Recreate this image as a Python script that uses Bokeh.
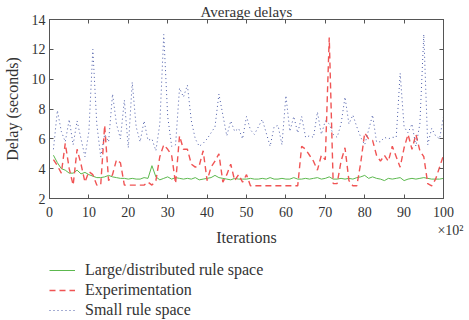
from bokeh.plotting import figure
from bokeh.models import Legend, LegendItem, LinearAxis, Range1d, FixedTicker
from bokeh.layouts import column
from bokeh.embed import file_html
from bokeh.resources import INLINE

iterations = list(range(1, 101))

large_rule = [4.9, 4.4, 4.0, 3.9, 3.7, 3.7, 3.9, 3.65, 3.75, 3.6,
              3.5, 3.4, 3.4, 3.45, 3.55, 3.45, 3.4, 3.35, 3.35, 3.3,
              3.35, 3.3, 3.3, 3.4, 3.35, 4.2, 3.45, 3.25, 3.35, 3.45,
              3.3, 3.4, 3.35, 3.3, 3.35, 3.3, 3.4, 3.25, 3.3, 3.35,
              3.4, 3.55, 3.4, 3.35, 3.3, 3.25, 3.35, 3.3, 3.3, 3.3,
              3.35, 3.3, 3.3, 3.35, 3.3, 3.4, 3.3, 3.3, 3.35, 3.3,
              3.3, 3.4, 3.3, 3.3, 3.35, 3.3, 3.35, 3.4, 3.3, 3.35,
              3.45, 3.3, 3.3, 3.35, 3.3, 3.35, 3.3, 3.4, 3.45, 3.55,
              3.35, 3.45, 3.35, 3.3, 3.2, 3.35, 3.3, 3.35, 3.4, 3.2,
              3.3, 3.35, 3.3, 3.35, 3.4, 3.35, 3.3, 3.3, 3.3, 3.35]

experimentation = [4.6, 4.2, 3.7, 5.7, 4.0, 2.9, 5.3, 4.3, 3.1, 3.8,
                   3.6, 2.9, 2.9, 6.9, 3.2, 3.6, 4.6, 4.4, 2.9, 2.9,
                   2.9, 2.9, 2.9, 2.9, 3.1, 2.9, 3.2, 4.8, 5.6, 5.3,
                   4.9, 3.0, 6.2, 5.3, 5.3, 4.3, 4.1, 4.2, 5.2, 3.2,
                   4.1, 4.5, 5.0, 3.1, 3.6, 4.3, 3.2, 3.6, 3.1, 3.6,
                   2.85, 2.85, 2.85, 2.85, 2.85, 2.85, 2.85, 2.85, 2.85, 2.85,
                   2.85, 2.85, 2.85, 5.5, 5.3, 4.9, 4.5, 3.9, 4.9, 4.6,
                   12.8, 3.0, 3.0, 4.5, 5.4, 3.2, 2.85, 2.85, 4.4, 6.4,
                   6.0, 5.9, 4.9, 4.5, 4.9, 4.5, 5.5, 4.8, 4.1, 5.4,
                   6.3, 5.3, 6.3, 5.2, 4.8, 3.0, 2.85, 3.3, 4.1, 4.9]

small_rule = [5.3, 7.9, 6.5, 5.8, 7.3, 5.6, 7.2, 6.0, 4.8, 6.5,
              12.0, 7.0, 4.8, 6.3, 5.8, 9.0, 7.0, 6.0, 8.6, 5.4,
              9.8, 6.8, 5.8, 7.2, 5.9, 6.0, 5.2, 7.0, 13.0, 7.5,
              5.5, 5.6, 9.4, 8.8, 9.6, 7.2, 6.0, 5.5, 5.7, 6.0,
              6.4, 6.8, 9.0, 7.6, 6.2, 7.2, 6.5, 6.7, 6.0, 7.5,
              6.6, 6.3, 6.8, 7.3, 6.4, 5.5, 6.8, 6.9, 5.6, 8.9,
              6.5, 7.5, 6.4, 7.5, 6.1, 6.2, 6.1, 7.8, 6.3, 7.2,
              7.0, 6.3, 6.1, 7.0, 8.8, 7.0, 7.6, 6.8, 6.1, 5.6,
              6.6, 7.6, 5.8, 5.8, 6.1, 6.0, 6.1, 6.1, 10.4, 6.8,
              6.4, 7.0, 5.5, 7.0, 13.0, 5.6, 6.7, 6.2, 6.0, 7.5]

series_names = ["Large/distributed rule space", "Experimentation", "Small rule space"]
x_ticks = [0, 10, 20, 30, 40, 50, 60, 70, 80, 90, 100]
y_ticks = [2, 4, 6, 8, 10, 12, 14]
x_scale_note = "\u00a0\u00a0\u00a0\u00a0×10²"

FONT = "Liberation Serif"
AX = "#555555"
TXT = "#333333"
COLORS = ["#5cb84e", "#f05454", "#4c5ca8"]
DASHES = ["solid", "6 4", "1 3"]
WIDTHS = [1, 1.4, 1]

p = figure(width=469, height=250, output_backend="svg", toolbar_location=None,
           x_range=Range1d(0, 100), y_range=Range1d(2, 14),
           min_border_left=48, min_border_right=26, min_border_top=19,
           min_border_bottom=52, background_fill_color="white",
           border_fill_color="white")
p.grid.visible = False
p.outline_line_color = AX
p.outline_line_width = 1

p.title.text = "Average delays"
p.title.align = "center"
p.title.text_font = FONT
p.title.text_font_style = "normal"
p.title.text_font_size = "15px"
p.title.text_color = TXT
p.title.standoff = 0
p.title.offset = 0

for ax in [p.xaxis[0], p.yaxis[0]]:
    ax.major_label_text_font = FONT
    ax.major_label_text_font_size = "14px"
    ax.major_label_text_color = TXT
    ax.axis_label_text_font = FONT
    ax.axis_label_text_font_size = "16px"
    ax.axis_label_text_font_style = "normal"
    ax.axis_label_text_color = TXT
    ax.axis_line_color = AX
    ax.major_tick_line_color = AX
    ax.major_tick_in = 4
    ax.major_tick_out = 0
    ax.minor_tick_line_color = None

p.xaxis[0].ticker = FixedTicker(ticks=x_ticks)
p.xaxis[0].major_label_overrides = {100: "100\n" + x_scale_note}
p.yaxis[0].ticker = FixedTicker(ticks=y_ticks)
p.xaxis[0].axis_label = "Iterations"
p.yaxis[0].axis_label = "Delay (seconds)"
p.xaxis[0].major_label_standoff = 6
p.yaxis[0].major_label_standoff = 4
p.xaxis[0].axis_label_standoff = -12
p.yaxis[0].axis_label_standoff = 8

top_ax = LinearAxis(ticker=FixedTicker(ticks=x_ticks), major_tick_in=4, major_tick_out=0,
                    minor_tick_line_color=None,
                    major_label_overrides={t: "" for t in x_ticks},
                    axis_line_color=AX, major_tick_line_color=AX, major_label_standoff=0)
right_ax = LinearAxis(ticker=FixedTicker(ticks=y_ticks), major_tick_in=4, major_tick_out=0,
                      minor_tick_line_color=None,
                      major_label_overrides={t: "" for t in y_ticks},
                      axis_line_color=AX, major_tick_line_color=AX, major_label_standoff=0)
p.add_layout(top_ax, "above")
p.add_layout(right_ax, "right")

series = [large_rule, experimentation, small_rule]
for vals, c, d, w in zip(series, COLORS, DASHES, WIDTHS):
    p.line(iterations, vals, line_color=c, line_width=w, line_dash=d)

# legend panel below the chart
lg = figure(width=469, height=70, output_backend="svg", toolbar_location=None,
            min_border=0, x_range=Range1d(0, 100), y_range=Range1d(2, 14),
            background_fill_color="white", border_fill_color="white")
lg.axis.visible = False
lg.grid.visible = False
lg.outline_line_color = None
items = []
for name, vals, c, d, w in zip(series_names, series, COLORS, DASHES, WIDTHS):
    r = lg.line(iterations, vals, line_color=c, line_width=w, line_dash=d, visible=False)
    items.append(LegendItem(label=name, renderers=[r]))

legend = Legend(items=items, location=(0, 0), orientation="vertical",
                border_line_color=None, background_fill_alpha=0,
                inactive_fill_alpha=0, click_policy="none",
                label_text_font=FONT, label_text_font_size="16px",
                label_text_color=TXT, glyph_width=26, glyph_height=20,
                label_height=20, spacing=0, padding=0, label_standoff=10,
                margin=0)
lg.add_layout(legend, "center")

open("out.html", "w").write(file_html(column(p, lg, spacing=0), INLINE))
